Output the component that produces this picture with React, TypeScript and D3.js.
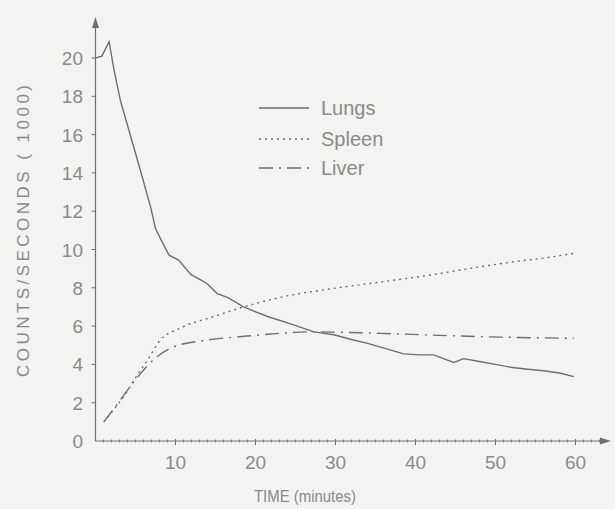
import React from "react";
import * as d3 from "d3";

const lungsT = [0, 0.8, 1.7, 2.3, 3.1, 4.4, 5.6, 6.9, 7.5, 8.2, 9.2, 10.4, 11.9, 13.2, 14.0, 15.2, 16.5, 18.5, 21.5, 24.5, 27.3, 29.8, 32, 34, 36.5, 38.5, 40.5, 42.3, 43.5, 44.8, 46, 48, 50, 51.9, 54, 56, 58, 59.8];
const lungsV = [20, 20.1, 20.85, 19.4, 17.8, 15.9, 14.15, 12.2, 11.1, 10.5, 9.7, 9.45, 8.7, 8.4, 8.2, 7.7, 7.5, 7.0, 6.5, 6.1, 5.7, 5.55, 5.3, 5.1, 4.8, 4.55, 4.5, 4.5, 4.3, 4.1, 4.3, 4.15, 4.0, 3.85, 3.75, 3.67, 3.55, 3.36];
const spleenT = [1.04, 2.2, 3.5, 5, 6.5, 8.1, 10.6, 14.8, 18.5, 23.1, 29.8, 35.6, 41.9, 48.1, 52.3, 56, 59.8];
const spleenV = [1.0, 1.6, 2.3, 3.3, 4.23, 5.27, 5.9, 6.5, 7.0, 7.5, 7.97, 8.3, 8.67, 9.1, 9.36, 9.55, 9.8];
const liverT = [1.04, 2.5, 4.0, 5.8, 7.7, 9.8, 14.0, 19, 27.3, 35.6, 48.1, 59.8];
const liverV = [1.0, 1.8, 2.66, 3.6, 4.4, 4.92, 5.27, 5.48, 5.7, 5.62, 5.45, 5.36];
const xTicks = [10, 20, 30, 40, 50, 60];
const yTicks = [0, 2, 4, 6, 8, 10, 12, 14, 16, 18, 20];
const seriesNames = ["Lungs", "Spleen", "Liver"];

const W = 615, H = 509;
const x = d3.scaleLinear().domain([0, 60]).range([95.5, 575.5]);
const y = d3.scaleLinear().domain([0, 20]).range([441, 58]);
const ink = "#8a8a8a";
const lineInk = "#6e6e6e";
const font = "'Liberation Sans', Arial, sans-serif";

function pts(t: number[], v: number[]): [number, number][] {
  return t.map((d, i) => [x(d), y(v[i])]);
}

export default function App() {
  const linear = d3.line();
  const smooth = d3.line().curve(d3.curveMonotoneX);
  const minor = d3.range(1, 64);
  const dashes = ["none", "2,4", "14,6,2,6"];
  const legendY = [108, 139, 168];
  return (
    <svg width={W} height={H} style={{ position: "fixed", left: 0, top: 0, background: "#f3f3f1" }}>
      <line x1={x(0)} y1={y(0)} x2={x(0)} y2={22} stroke={lineInk} strokeWidth={1.2} />
      <path d={`M${x(0)},17 L${x(0) - 3.5},28 L${x(0) + 3.5},28 Z`} fill={lineInk} />
      <line x1={x(0)} y1={y(0)} x2={604} y2={y(0)} stroke={lineInk} strokeWidth={1.2} />
      <path d={`M611,${y(0)} L600,${y(0) - 3.5} L600,${y(0) + 3.5} Z`} fill={lineInk} />
      {minor.map((m) => (
        <line key={"m" + m} x1={x(m)} x2={x(m)} y1={y(0) - 1.5} y2={y(0) + 1.5} stroke={lineInk} strokeWidth={0.8} />
      ))}
      {xTicks.map((t) => (
        <g key={"x" + t}>
          <line x1={x(t)} x2={x(t)} y1={y(0) - 2} y2={y(0) + 4} stroke={lineInk} strokeWidth={1} />
          <text x={x(t)} y={469} textAnchor="middle" fontSize={19} fill={ink} fontFamily={font}>{t}</text>
        </g>
      ))}
      {yTicks.map((t) => (
        <g key={"y" + t}>
          {t > 0 && <line x1={x(0) - 4} x2={x(0)} y1={y(t)} y2={y(t)} stroke={lineInk} strokeWidth={1} />}
          <text x={83} y={y(t) + 7} textAnchor="end" fontSize={19} fill={ink} fontFamily={font}>{t}</text>
        </g>
      ))}
      <text transform="translate(29,231) rotate(-90)" textAnchor="middle" fontSize={17} fill={ink} fontFamily={font} textLength={292} lengthAdjust="spacing">COUNTS/SECONDS ( 1000)</text>
      <text x={305} y={502} textAnchor="middle" fontSize={16} fill={ink} fontFamily={font} textLength={102} lengthAdjust="spacingAndGlyphs">TIME (minutes)</text>
      <path d={linear(pts(lungsT, lungsV)) || ""} fill="none" stroke={lineInk} strokeWidth={1.4} />
      <path d={smooth(pts(spleenT, spleenV)) || ""} fill="none" stroke={lineInk} strokeWidth={1.4} strokeDasharray={dashes[1]} />
      <path d={smooth(pts(liverT, liverV)) || ""} fill="none" stroke={lineInk} strokeWidth={1.4} strokeDasharray={dashes[2]} />
      {seriesNames.map((n, i) => (
        <g key={n}>
          <line x1={259} x2={309} y1={legendY[i]} y2={legendY[i]} stroke={lineInk} strokeWidth={1.4} strokeDasharray={dashes[i]} />
          <text x={321} y={legendY[i] + 7} fontSize={20} fill={ink} fontFamily={font}>{n}</text>
        </g>
      ))}
    </svg>
  );
}
